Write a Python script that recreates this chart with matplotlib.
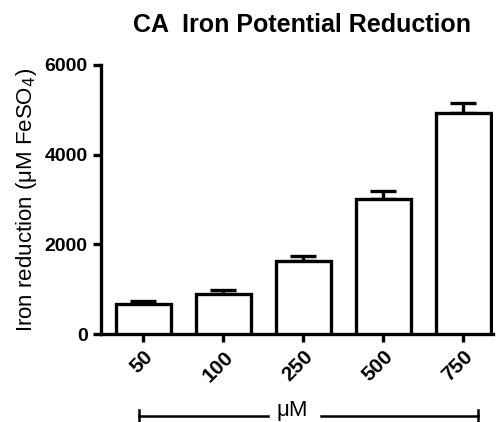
import numpy as np
import matplotlib.pyplot as plt

plt.rcParams['font.family'] = ['Liberation Sans', 'DejaVu Sans']

# data
conc = ['50', '100', '250', '500', '750']
means = [670, 895, 1630, 3010, 4930]
sem = [70, 85, 110, 180, 220]

fig = plt.figure(figsize=(5, 4.22), dpi=100)
ax = fig.add_axes([0.202, 0.2085, 0.784, 0.6375])

x = np.arange(len(conc))
lw = 2.4
ax.bar(x, means, width=0.69, color='white', edgecolor='black', linewidth=lw, zorder=3)
ax.errorbar(x, means, yerr=[np.zeros(len(sem)), sem], fmt='none', ecolor='black',
            elinewidth=lw, capsize=9.5, capthick=lw, zorder=2)

ax.set_xlim(-0.53, 4.37)
ax.set_ylim(0, 6000)
ax.set_yticks([0, 2000, 4000, 6000])
ax.set_xticks(x)
ax.set_xticklabels(conc, rotation=45, ha='right', rotation_mode='anchor')

for s in ['top', 'right']:
    ax.spines[s].set_visible(False)
for s in ['left', 'bottom']:
    ax.spines[s].set_linewidth(lw)
ax.tick_params(axis='y', width=lw, length=6, labelsize=14)
ax.tick_params(axis='x', width=lw, length=6, labelsize=15)
for lab in ax.get_xticklabels() + ax.get_yticklabels():
    lab.set_fontweight('bold')

ax.set_ylabel('Iron reduction (μM FeSO$_4$)', fontsize=16, labelpad=4)
fig.text(0.604, 0.94, 'CA  Iron Potential Reduction', ha='center', va='center',
         fontsize=18, fontweight='bold')

# bracket under the x axis
yb = 1 - 416 / 422
fig.add_artist(plt.Line2D([139/500, 268/500], [yb, yb], color='black', lw=1.8))
fig.add_artist(plt.Line2D([321/500, 478/500], [yb, yb], color='black', lw=1.8))
for xe in [139/500, 478/500]:
    fig.add_artist(plt.Line2D([xe, xe], [yb - 0.015, yb + 0.015], color='black', lw=1.8))
fig.text(292/500, yb + 0.014, 'μM', ha='center', va='center', fontsize=16)

fig.savefig('out.png', dpi=100)
